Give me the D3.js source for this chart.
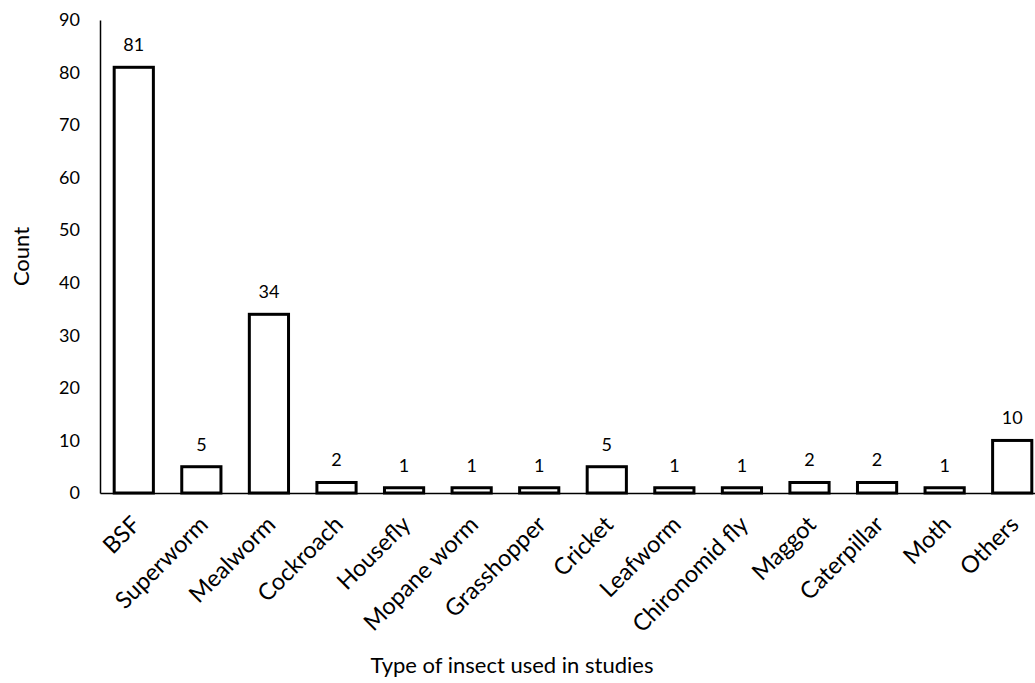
<!DOCTYPE html>
<html>
<head>
<meta charset="utf-8">
<script src="https://cdn.jsdelivr.net/npm/d3@7"></script>
<style>
  html, body { margin: 0; padding: 0; background: #fff; }
  svg text { font-family: Lato, "Open Sans", sans-serif; fill: #000; }
</style>
</head>
<body>
<svg id="chart" width="1035" height="683"></svg>
<script>
// Insect types and study counts
const categories = ["BSF", "Superworm", "Mealworm", "Cockroach", "Housefly", "Mopane worm",
  "Grasshopper", "Cricket", "Leafworm", "Chironomid fly", "Maggot", "Caterpillar", "Moth", "Others"];
const counts = [81, 5, 34, 2, 1, 1, 1, 5, 1, 1, 2, 2, 1, 10];
const yTicks = [0, 10, 20, 30, 40, 50, 60, 70, 80, 90];
const xTitle = "Type of insect used in studies";
const yTitle = "Count";

const svg = d3.select("#chart");
const plotLeft = 100, plotRight = 1046, plotTop = 20, plotBottom = 493;

const x = d3.scaleBand()
  .domain(categories)
  .range([plotLeft, plotRight])
  .paddingInner(0.42)
  .paddingOuter(0.21);

const y = d3.scaleLinear().domain([0, 90]).range([plotBottom, plotTop]);

// y axis
const yAxis = svg.append("g")
  .attr("transform", `translate(${plotLeft},0)`)
  .call(d3.axisLeft(y).tickValues(yTicks).tickSize(0).tickPadding(20));
yAxis.select(".domain").attr("stroke", "#000").attr("stroke-width", 1.5);
yAxis.selectAll("text")
  .style("font-size", "18px")
  .style("font-family", "Lato, sans-serif");

// bars
svg.append("g").selectAll("rect")
  .data(categories)
  .join("rect")
  .attr("x", d => x(d))
  .attr("y", (d, i) => y(counts[i]))
  .attr("width", x.bandwidth())
  .attr("height", (d, i) => y(0) - y(counts[i]))
  .attr("fill", "#fff")
  .attr("stroke", "#000")
  .attr("stroke-width", 3);

// x axis baseline with rotated category labels
const xAxis = svg.append("g")
  .attr("transform", `translate(0,${plotBottom})`)
  .call(d3.axisBottom(x).tickSize(0).tickPadding(0));
xAxis.select(".domain").attr("stroke", "#000").attr("stroke-width", 1.5);
xAxis.selectAll("text")
  .style("font-size", "23.5px")
  .style("font-family", "Lato, sans-serif")
  .attr("text-anchor", "end")
  .attr("y", 0)
  .attr("dy", 0)
  .attr("transform", "translate(8,33) rotate(-45)");

// value labels
svg.append("g").selectAll("text")
  .data(categories)
  .join("text")
  .attr("x", d => x(d) + x.bandwidth() / 2)
  .attr("y", (d, i) => y(counts[i]) - 16)
  .attr("text-anchor", "middle")
  .style("font-size", "18px")
  .text((d, i) => counts[i]);

// axis titles
svg.append("text")
  .attr("x", 512)
  .attr("y", 673)
  .attr("text-anchor", "middle")
  .style("font-size", "22px")
  .text(xTitle);

svg.append("text")
  .attr("transform", `translate(29,${(plotTop + plotBottom) / 2}) rotate(-90)`)
  .attr("text-anchor", "middle")
  .style("font-size", "22px")
  .text(yTitle);
</script>
</body>
</html>
